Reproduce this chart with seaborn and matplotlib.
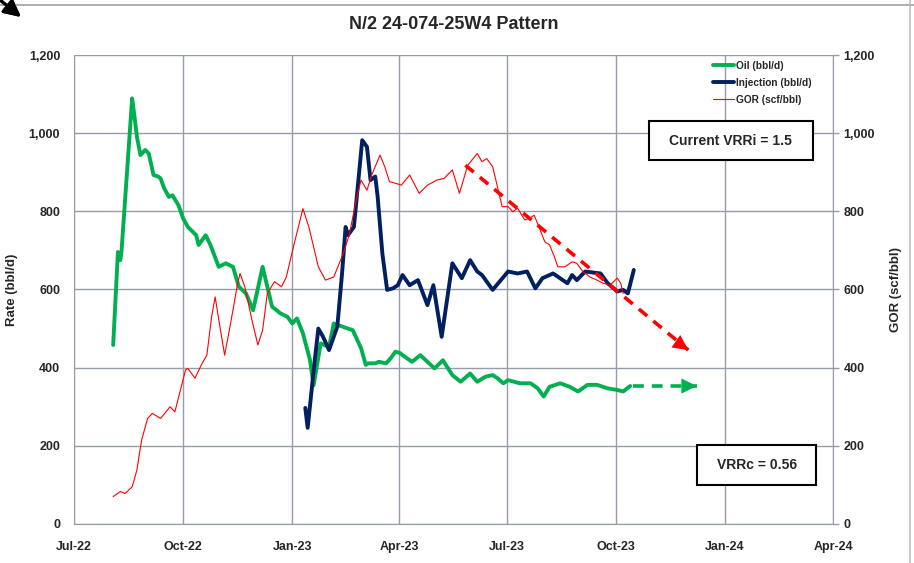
import numpy as np
import pandas as pd
import matplotlib
matplotlib.use("Agg")
import matplotlib.pyplot as plt
import matplotlib.dates as mdates
from matplotlib.lines import Line2D
from matplotlib.patches import Rectangle
from matplotlib.ticker import FuncFormatter
import seaborn as sns

# values
oil_dates = ["2022-08-03", "2022-08-07", "2022-08-09", "2022-08-10", "2022-08-19", "2022-08-21",
             "2022-08-23", "2022-08-26", "2022-08-30", "2022-09-02", "2022-09-06", "2022-09-10",
             "2022-09-12", "2022-09-15", "2022-09-19", "2022-09-22", "2022-09-27", "2022-10-01",
             "2022-10-05", "2022-10-12", "2022-10-14", "2022-10-20", "2022-10-24", "2022-10-31",
             "2022-11-06", "2022-11-12", "2022-11-17", "2022-11-23", "2022-11-29", "2022-12-07",
             "2022-12-11", "2022-12-15", "2022-12-22", "2022-12-28", "2023-01-01", "2023-01-05",
             "2023-01-10", "2023-01-16", "2023-01-19", "2023-01-25", "2023-02-01", "2023-02-05",
             "2023-02-17", "2023-02-21", "2023-02-28", "2023-03-04", "2023-03-06", "2023-03-12",
             "2023-03-15", "2023-03-21", "2023-03-25", "2023-03-29", "2023-04-02", "2023-04-04",
             "2023-04-12", "2023-04-19", "2023-04-25", "2023-05-01", "2023-05-08", "2023-05-16",
             "2023-05-23", "2023-05-31", "2023-06-06", "2023-06-13", "2023-06-19", "2023-06-23",
             "2023-06-28", "2023-07-02", "2023-07-12", "2023-07-21", "2023-07-27", "2023-08-01",
             "2023-08-06", "2023-08-15", "2023-08-23", "2023-08-30", "2023-09-07", "2023-09-15",
             "2023-09-24", "2023-10-02", "2023-10-07", "2023-10-13"]
oil_rate = [458, 696, 675, 696, 1089, 1042,
            991, 944, 957, 948, 893, 889,
            884, 859, 837, 841, 816, 782,
            760, 739, 714, 739, 714, 658,
            667, 658, 607, 590, 547, 658,
            607, 556, 539, 530, 513, 526,
            488, 419, 355, 462, 453, 513,
            500, 496, 450, 407, 411, 411,
            415, 411, 424, 441, 437, 432,
            415, 432, 415, 398, 419, 381,
            364, 385, 364, 377, 381, 373,
            360, 368, 360, 360, 347, 326,
            351, 360, 351, 339, 356, 356,
            347, 343, 339, 353]

inj_dates = ["2023-01-12", "2023-01-14", "2023-01-20", "2023-01-23", "2023-01-27", "2023-02-01",
             "2023-02-08", "2023-02-12", "2023-02-15", "2023-02-17", "2023-02-22", "2023-03-01",
             "2023-03-05", "2023-03-08", "2023-03-12", "2023-03-14", "2023-03-18", "2023-03-22",
             "2023-03-27", "2023-03-31", "2023-04-04", "2023-04-10", "2023-04-17", "2023-04-25",
             "2023-04-30", "2023-05-07", "2023-05-16", "2023-05-24", "2023-05-31", "2023-06-06",
             "2023-06-10", "2023-06-19", "2023-07-02", "2023-07-10", "2023-07-18", "2023-07-25",
             "2023-07-31", "2023-08-09", "2023-08-21", "2023-08-25", "2023-08-29", "2023-09-05",
             "2023-09-18", "2023-09-24", "2023-10-02", "2023-10-07", "2023-10-11", "2023-10-16"]
inj_rate = [297, 246, 419, 500, 479, 445,
            505, 641, 760, 739, 760, 982,
            965, 880, 889, 838, 692, 599,
            603, 611, 637, 611, 624, 560,
            611, 479, 667, 629, 675, 646,
            637, 599, 646, 641, 646, 603,
            629, 641, 616, 637, 624, 646,
            641, 616, 595, 599, 590, 650]

gor_dates = ["2022-08-03", "2022-08-09", "2022-08-13", "2022-08-19", "2022-08-23", "2022-08-27",
             "2022-09-01", "2022-09-05", "2022-09-12", "2022-09-20", "2022-09-24", "2022-09-28",
             "2022-10-03", "2022-10-05", "2022-10-11", "2022-10-17", "2022-10-21", "2022-10-25",
             "2022-10-28", "2022-11-01", "2022-11-05", "2022-11-10", "2022-11-16", "2022-11-18",
             "2022-11-22", "2022-11-28", "2022-12-03", "2022-12-07", "2022-12-11", "2022-12-17",
             "2022-12-23", "2022-12-27", "2023-01-02", "2023-01-10", "2023-01-15", "2023-01-23",
             "2023-01-29", "2023-02-05", "2023-02-13", "2023-02-18", "2023-02-24", "2023-02-28",
             "2023-03-05", "2023-03-09", "2023-03-16", "2023-03-20", "2023-03-24", "2023-03-30",
             "2023-04-03", "2023-04-10", "2023-04-18", "2023-04-25", "2023-05-03", "2023-05-09",
             "2023-05-16", "2023-05-22", "2023-05-29", "2023-06-06", "2023-06-10", "2023-06-14",
             "2023-06-19", "2023-06-23", "2023-06-27", "2023-07-02", "2023-07-06", "2023-07-10",
             "2023-07-16", "2023-07-20", "2023-07-24", "2023-07-28", "2023-08-02", "2023-08-06",
             "2023-08-10", "2023-08-13", "2023-08-19", "2023-08-25", "2023-08-29", "2023-09-03",
             "2023-09-09", "2023-09-15", "2023-09-20", "2023-09-26", "2023-10-02", "2023-10-05",
             "2023-10-07"]
gor = [70, 83, 78, 95, 138, 215,
       270, 283, 270, 300, 287, 334,
       394, 398, 373, 411, 432, 530,
       581, 505, 432, 513, 616, 641,
       607, 522, 458, 496, 590, 620,
       607, 632, 709, 807, 760, 658,
       624, 632, 692, 739, 829, 880,
       854, 893, 944, 914, 876, 871,
       867, 893, 846, 867, 880, 884,
       906, 846, 918, 948, 927, 935,
       914, 863, 812, 812, 799, 808,
       778, 782, 790, 760, 722, 714,
       684, 658, 658, 671, 667, 646,
       632, 624, 616, 611, 629, 616,
       590]

# trend arrows (start, end)
gor_trend_dates = ["2023-05-27", "2023-12-01"]
gor_trend = [918, 445]
oil_trend_dates = ["2023-10-15", "2023-12-08"]
oil_trend = [353, 353]

month_ticks = ["2022-07-01", "2022-10-01", "2023-01-01", "2023-04-01",
               "2023-07-01", "2023-10-01", "2024-01-01", "2024-04-01"]

oil_df = pd.DataFrame({"Date": pd.to_datetime(oil_dates), "Rate": oil_rate})
inj_df = pd.DataFrame({"Date": pd.to_datetime(inj_dates), "Rate": inj_rate})
gor_df = pd.DataFrame({"Date": pd.to_datetime(gor_dates), "GOR": gor})

sns.set_style("white")
plt.rcParams["font.family"] = ["Liberation Sans", "DejaVu Sans"]
plt.rcParams["font.weight"] = "bold"

green = "#00B050"
navy = "#002060"
red = "#FF0000"
grid_c = "#959dab"

fig = plt.figure(figsize=(9.14, 5.63), dpi=100)
ax = fig.add_axes([0.081, 0.0693, 0.8304, 0.833])
ax2 = ax.twinx()

sns.lineplot(data=oil_df, x="Date", y="Rate", ax=ax, color=green, lw=2.8, label="Oil (bbl/d)")
sns.lineplot(data=inj_df, x="Date", y="Rate", ax=ax, color=navy, lw=2.8, label="Injection (bbl/d)")
sns.lineplot(data=gor_df, x="Date", y="GOR", ax=ax2, color=red, lw=0.8, label="GOR (scf/bbl)")

# dashed trend arrows
gx = pd.to_datetime(gor_trend_dates)
ax2.plot(gx, gor_trend, color=red, lw=2.6, ls=(0, (3, 2.2)))
ax2.annotate("", xy=(gx[1], gor_trend[1]), xytext=(gx[1] - pd.Timedelta(days=14), gor_trend[1] + 30),
             arrowprops=dict(arrowstyle="-|>,head_length=1.1,head_width=0.55", color=red, lw=0, shrinkA=0, shrinkB=0))
ox = pd.to_datetime(oil_trend_dates)
ax.plot(ox, oil_trend, color=green, lw=2.6, ls=(0, (3, 2.2)))
ax.annotate("", xy=(ox[1], oil_trend[1]), xytext=(ox[1] - pd.Timedelta(days=14), oil_trend[1]),
            arrowprops=dict(arrowstyle="-|>,head_length=1.1,head_width=0.55", color=green, lw=0, shrinkA=0, shrinkB=0))

xmin, xmax = pd.Timestamp(month_ticks[0]), pd.Timestamp(month_ticks[-1])
for a in (ax, ax2):
    a.set_xlim(xmin, xmax)
    a.set_ylim(0, 1200)
    a.set_yticks(range(0, 1201, 200))
    a.yaxis.set_major_formatter(FuncFormatter(lambda v, p: f"{int(v):,}"))
    for s in a.spines.values():
        s.set_visible(False)

ax.set_xticks(pd.to_datetime(month_ticks))
ax.xaxis.set_major_formatter(mdates.DateFormatter("%b-%y"))
ax.grid(True, axis="both", color=grid_c, lw=1.0)
ax.tick_params(axis="x", length=4, width=1, color=grid_c, pad=8.5, labelsize=9)
ax.tick_params(axis="y", length=0, pad=10, labelsize=9)
ax2.tick_params(axis="y", length=4.5, width=1, color=grid_c, pad=3, labelsize=9)
ax2.grid(False)
for lbl in ax.get_xticklabels() + ax.get_yticklabels() + ax2.get_yticklabels():
    lbl.set_fontweight("bold")
for side in ("left", "bottom"):
    ax.spines[side].set_visible(True)
    ax.spines[side].set_color(grid_c)
ax2.spines["right"].set_visible(True)
ax2.spines["right"].set_color(grid_c)

ax.set_xlabel("")
ax.set_ylabel("Rate (bbl/d)", fontsize=9.5, fontweight="bold", labelpad=7.5)
ax2.set_ylabel("GOR (scf/bbl)", fontsize=9.5, fontweight="bold", labelpad=11)
ax.set_title("N/2 24-074-25W4 Pattern", fontsize=13, fontweight="bold", pad=19)

# legend
h1, l1 = ax.get_legend_handles_labels()
h2, l2 = ax2.get_legend_handles_labels()
if ax2.get_legend():
    ax2.get_legend().remove()
leg = ax.legend(h1 + h2, l1 + l2, loc="upper left", bbox_to_anchor=(0.842, 0.988), frameon=False,
                prop={"size": 7.3, "weight": "bold"}, handlelength=2.1, handletextpad=0.2,
                labelspacing=0.7, borderaxespad=0, borderpad=0)
leg.set_zorder(5)

# annotation boxes
box_props = dict(facecolor="white", edgecolor="black", lw=1.5, zorder=6)
ax.add_patch(Rectangle((0.757, 0.776), 0.216, 0.083, transform=ax.transAxes, **box_props))
ax.text(0.865, 0.8175, "Current VRRi = 1.5", transform=ax.transAxes, ha="center", va="center",
        fontsize=10, fontweight="bold", zorder=7)
ax.add_patch(Rectangle((0.821, 0.083), 0.157, 0.085, transform=ax.transAxes, **box_props))
ax.text(0.8995, 0.1255, "VRRc = 0.56", transform=ax.transAxes, ha="center", va="center",
        fontsize=10, fontweight="bold", zorder=7)

# frame bits from the screenshot edge
fig.add_artist(Line2D([0.0, 1.0], [1 - 5 / 563, 1 - 5 / 563], color="#a0a0a0", lw=1.2))
fig.add_artist(Line2D([910 / 914, 910 / 914], [0, 1], color="#c0c0c0", lw=1.2))
fig.add_artist(plt.annotate("", xy=(21 / 914, 1 - 17 / 563), xytext=(0, 1.0), xycoords="figure fraction",
                            textcoords="figure fraction",
                            arrowprops=dict(arrowstyle="-|>,head_length=1.0,head_width=0.5", color="black",
                                            lw=2.2, shrinkA=0, shrinkB=0)))

fig.savefig("out.png", dpi=100)
